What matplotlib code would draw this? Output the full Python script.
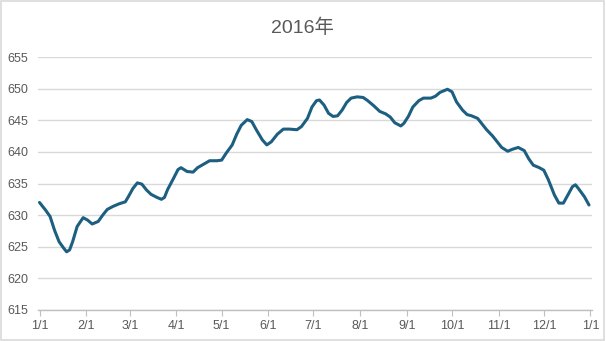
import pandas as pd
import matplotlib
matplotlib.use("Agg")
import matplotlib.pyplot as plt
from matplotlib.patches import Rectangle

plt.rcParams["font.family"] = ["Liberation Sans", "Noto Sans CJK SC", "DejaVu Sans"]

# día del año (0 = 1 de enero de 2016) y valor
days = [0, 4, 7, 10, 13, 16, 18, 20, 22, 25, 29, 32, 35, 39, 42, 45, 49, 53,
        57, 59, 62, 65, 68, 71, 74, 78, 81, 83, 85, 89, 92, 94, 98, 102, 105,
        113, 118, 121, 124, 128, 131, 134, 138, 141, 144, 148, 151, 154, 158,
        162, 166, 171, 174, 178, 181, 184, 186, 189, 192, 195, 198, 201, 204,
        207, 211, 215, 218, 222, 226, 230, 233, 236, 240, 242, 245, 248, 252,
        255, 260, 263, 266, 271, 274, 277, 281, 284, 287, 291, 294, 297, 301,
        304, 307, 311, 314, 318, 322, 325, 328, 332, 335, 338, 342, 345, 348,
        351, 354, 356, 358, 362, 365]
values = [632.0, 630.8, 629.8, 627.6, 625.8, 624.8, 624.2, 624.5, 625.8, 628.2,
          629.6, 629.2, 628.6, 629.0, 630.0, 630.9, 631.4, 631.8, 632.1, 632.9,
          634.2, 635.1, 634.9, 634.0, 633.3, 632.8, 632.5, 632.8, 634.0, 635.8,
          637.2, 637.5, 636.9, 636.8, 637.5, 638.6, 638.6, 638.7, 639.8, 641.1,
          642.8, 644.2, 645.1, 644.8, 643.5, 641.9, 641.1, 641.6, 642.8, 643.6,
          643.6, 643.5, 644.0, 645.3, 647.1, 648.1, 648.2, 647.4, 646.1, 645.6,
          645.7, 646.6, 647.8, 648.5, 648.7, 648.6, 648.1, 647.3, 646.4, 646.0,
          645.5, 644.6, 644.1, 644.5, 645.6, 647.1, 648.1, 648.5, 648.5, 648.8,
          649.4, 649.9, 649.5, 647.9, 646.6, 645.9, 645.7, 645.3, 644.4, 643.5,
          642.5, 641.6, 640.7, 640.1, 640.4, 640.7, 640.2, 638.9, 637.9, 637.5,
          637.1, 635.6, 633.2, 631.9, 631.9, 633.2, 634.5, 634.8, 634.2, 632.9,
          631.6]

title = "2016年"
tick_dates = pd.date_range("2016-01-01", "2017-01-01", freq="MS")
tick_labels = [f"{d.month}/1" for d in tick_dates]
y_ticks = list(range(615, 656, 5))

dates = pd.Timestamp("2016-01-01") + pd.to_timedelta(days, unit="D")

fig = plt.figure(figsize=(6.06, 3.41), dpi=100)
fig.patches.append(Rectangle((0.002, 0.003), 0.995, 0.994, transform=fig.transFigure,
                             fill=False, edgecolor="#d9d9d9", linewidth=1.2))
ax = fig.add_axes([38 / 606, 1 - 310 / 341, 554 / 606, 253 / 341])

ax.plot(dates, values, color="#1d5f80", linewidth=2.2, solid_capstyle="round",
        solid_joinstyle="round", zorder=3)

ax.set_ylim(615, 655)
ax.set_yticks(y_ticks)
ax.set_xlim(pd.Timestamp("2015-12-31"), pd.Timestamp("2017-01-02"))
ax.set_xticks(tick_dates)
ax.set_xticklabels(tick_labels)

ax.grid(axis="y", color="#d9d9d9", linewidth=1)
ax.set_axisbelow(True)
for side in ["top", "right", "left"]:
    ax.spines[side].set_visible(False)
ax.spines["bottom"].set_color("#bfbfbf")
ax.spines["bottom"].set_linewidth(1)
ax.tick_params(axis="y", length=0, pad=7, labelsize=9, labelcolor="#595959")
ax.tick_params(axis="x", length=4, color="#bfbfbf", pad=3, labelsize=9,
               labelcolor="#595959")

fig.text(0.5, 1 - 28 / 341, title, ha="center", va="center", fontsize=14,
         color="#595959")

fig.savefig("out.png", dpi=100)
